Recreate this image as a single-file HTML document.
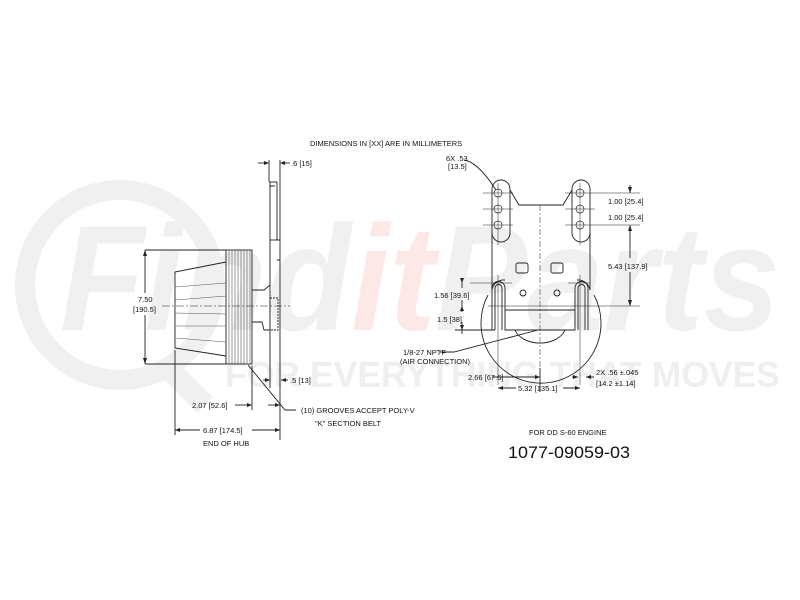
<!DOCTYPE html>
<html><head><style>html,body{margin:0;padding:0;background:#fff}svg{display:block}</style></head><body>
<svg width="800" height="600" viewBox="0 0 800 600" xmlns="http://www.w3.org/2000/svg" font-family="Liberation Sans, sans-serif">
<g>
<circle cx="120" cy="285" r="95" fill="none" stroke="#f0f0f0" stroke-width="20"/>
<line x1="165" y1="365" x2="205" y2="405" stroke="#f0f0f0" stroke-width="22"/>
<text x="60" y="330" font-size="150" font-weight="bold" font-style="italic" fill="#f0f0f0" textLength="720" lengthAdjust="spacingAndGlyphs">Find<tspan fill="#fde8e8">it</tspan>Parts</text>
<text x="225" y="387" font-size="36" font-weight="bold" fill="#efefef" textLength="555" lengthAdjust="spacingAndGlyphs">FOR EVERYTHING THAT MOVES</text>
</g>
<g stroke="#222" stroke-width="0.9" fill="none">
<line x1="269" y1="160" x2="269" y2="182"/><line x1="280" y1="160" x2="280" y2="440"/>
<line x1="258" y1="163" x2="268" y2="163"/><line x1="281" y1="163" x2="290" y2="163"/>
<rect x="270" y="182" width="7" height="58"/>
<path d="M270 240 L270 388 M277 240 L280 240 M277 260 L280 260"/>
<path d="M270 182 L270 186 L275 186"/>
<rect x="226" y="250" width="26" height="114"/>
<path d="M229 250V364M232 250V364M235 250V364M238 250V364M241 250V364M244 250V364M247 250V364M250 250V364" stroke="#555" stroke-width="0.6"/>
<path d="M226 262 L175 272 L175 348 L226 356"/>
<path d="M175 287 L226 283 M175 300 L226 296 M175 313 L226 314 M175 326 L226 326 M175 338 L226 342" stroke="#555" stroke-width="0.6"/>
<path d="M252 290 L264 290 L270 285 M252 322 L262 322 L264 330 L270 330"/>
<rect x="270" y="298" width="8" height="32" stroke-dasharray="2 1"/>
<line x1="162" y1="306" x2="290" y2="306" stroke-dasharray="8 2 2 2" stroke-width="0.6"/>
<line x1="145" y1="250" x2="226" y2="250"/><line x1="145" y1="364" x2="226" y2="364"/>
<line x1="145" y1="250" x2="145" y2="293"/><line x1="145" y1="315" x2="145" y2="364"/>
<line x1="263" y1="380" x2="270" y2="380"/><line x1="281" y1="380" x2="288" y2="380"/>
<line x1="235" y1="405" x2="247" y2="405"/><line x1="252" y1="366" x2="252" y2="410"/>
<line x1="175" y1="350" x2="175" y2="435"/>
<line x1="175" y1="430" x2="200" y2="430"/><line x1="252" y1="430" x2="280" y2="430"/>
<line x1="268" y1="405" x2="280" y2="405"/>
<path d="M248 365 L285 410 L296 410"/>
<rect x="492" y="180" width="18" height="62" rx="9"/>
<rect x="572" y="180" width="18" height="62" rx="9"/>
<path d="M510 190 L519 205 L563 205 L572 190"/>
<path d="M492 232 L492 290 M590 232 L590 290"/>
<path d="M488 295 A60 60 0 1 0 594 295" />
<path d="M492 290 A12 12 0 0 1 505 280 M590 290 A12 12 0 0 0 577 280"/>
<path d="M492 330 L492 288 A6.5 6.5 0 0 1 505 288 L505 330 L575 330 L575 288 A6.5 6.5 0 0 1 588 288 L588 330"/>
<path d="M495 330 L495 288 A3.5 3.5 0 0 1 502 288 L502 330 M578 330 L578 288 A3.5 3.5 0 0 1 585 288 L585 330"/>
<line x1="505" y1="310" x2="575" y2="310"/>
<path d="M515 330 A26 18 0 0 0 565 330"/>
<rect x="516" y="263" width="12" height="10" rx="2"/><rect x="551" y="263" width="12" height="10" rx="2"/>
<circle cx="523" cy="293" r="3"/><circle cx="557" cy="293" r="3"/>
<g stroke-width="0.7">
<circle cx="498" cy="193" r="4"/><circle cx="498" cy="209" r="4"/><circle cx="498" cy="225" r="4"/>
<circle cx="580" cy="193" r="4"/><circle cx="580" cy="209" r="4"/><circle cx="580" cy="225" r="4"/>
</g>
<g stroke-width="0.5">
<path d="M483 193H513M483 209H513M483 225H513M565 193H640M565 209H595M565 225H640M498 183V245M580 183V245"/>
<path d="M498 275V385M580 275V385M488 306H640M470 283H512M568 283H590"/>
<line x1="540" y1="205" x2="540" y2="372" stroke-dasharray="6 2 2 2"/>
</g>
<line x1="630" y1="185" x2="630" y2="193"/><line x1="630" y1="225" x2="630" y2="258"/><line x1="630" y1="272" x2="630" y2="306"/>
<line x1="462" y1="278" x2="462" y2="288"/><line x1="462" y1="300" x2="462" y2="312"/><line x1="462" y1="322" x2="462" y2="334"/>
<line x1="455" y1="330" x2="495" y2="330"/>
<line x1="492" y1="377" x2="540" y2="377"/><line x1="540" y1="368" x2="540" y2="392"/>
<line x1="498" y1="388" x2="516" y2="388"/><line x1="563" y1="388" x2="580" y2="388"/>
<line x1="572" y1="377" x2="578" y2="377"/><line x1="586" y1="377" x2="594" y2="377"/>
<path d="M464 160 Q478 162 496 190"/>
<path d="M440 352 L454 352 L538 330"/>
</g>
<g fill="#111" font-size="7.5">
<text x="310" y="146">DIMENSIONS IN [XX] ARE IN MILLIMETERS</text>
<text x="291" y="166">.6 [15]</text>
<text x="138" y="302">7.50</text><text x="133" y="312">[190.5]</text>
<text x="290" y="383">.5 [13]</text>
<text x="192" y="408">2.07 [52.6]</text>
<text x="301" y="413">(10) GROOVES ACCEPT POLY-V</text>
<text x="315" y="426">"K" SECTION BELT</text>
<text x="203" y="433">6.87 [174.5]</text>
<text x="203" y="446">END OF HUB</text>
<text x="446" y="161">6X .53</text><text x="448" y="169">[13.5]</text>
<text x="608" y="204">1.00 [25.4]</text><text x="608" y="220">1.00 [25.4]</text>
<text x="608" y="269">5.43 [137.9]</text>
<text x="434" y="298">1.56 [39.6]</text>
<text x="437" y="322">1.5 [38]</text>
<text x="403" y="355">1/8-27 NPTF</text><text x="400" y="364">(AIR CONNECTION)</text>
<text x="468" y="380">2.66 [67.6]</text>
<text x="518" y="391">5.32 [135.1]</text>
<text x="596" y="375">2X .56 ±.045</text><text x="596" y="386">[14.2 ±1.14]</text>
<text x="529" y="435">FOR DD S-60 ENGINE</text>
<text x="508" y="458" font-size="17" textLength="122" lengthAdjust="spacingAndGlyphs">1077-09059-03</text>
</g>
<g fill="#222">
<path d="M269 163l-5-2v4z M280 163l5-2v4z M145 250l-2 6h4z M145 364l-2-6h4z M270 380l-5-2v4z M281 380l5-2v4z M252 405l-5-2v4z M175 430l5-2v4z M280 430l-5-2v4z M280 405l-5-2v4z M630 193l-2-6h4z M630 225l-2 6h4z M630 306l-2-6h4z M462 283l-2-5h4z M462 306l-2 5h4z M462 330l-2-5h4z M540 377l-5-2v4z M498 388l5-2v4z M580 388l-5-2v4z M578 377l-5-2v4z M586 377l5-2v4z"/>
</g>
</svg>
</body></html>
